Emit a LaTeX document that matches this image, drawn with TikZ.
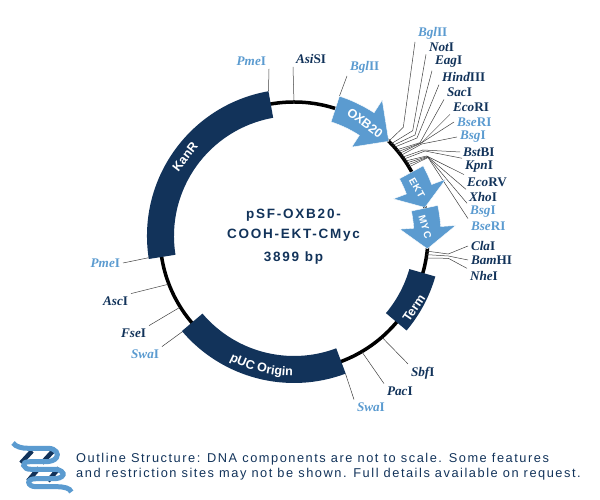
\documentclass[tikz,border=0pt]{standalone}
\usepackage{fontspec}
\usetikzlibrary{decorations.text}
\newfontfamily\labelfont{Liberation Sans}
\newfontfamily\spacedfont[LetterSpace=13]{Liberation Sans}
\newfontfamily\arrowfont[LetterSpace=10]{Liberation Sans}
\newfontfamily\footfont[LetterSpace=12]{Liberation Sans}
\newfontfamily\sitefont{Liberation Serif}
\definecolor{navy}{HTML}{12335A}
\definecolor{lightblue}{HTML}{5B9BD0}
\newcommand{\enz}[2]{\sitefont\bfseries\itshape #1\upshape #2}
\newcommand{\bandarc}[2]{(#1:147) arc[start angle=#1,end angle=#2,radius=147] -- (#2:120) arc[start angle=#2,end angle=#1,radius=120] -- cycle}
\newcommand{\arrowarc}[3]{(#1:147) arc[start angle=#1,end angle=#2,radius=147] -- (#2:162) -- (#3:134) -- (#2:106) -- (#2:120) arc[start angle=#2,end angle=#1,radius=120] -- cycle}
\tikzset{
  sitedark/.style={font=\fontsize{13.2}{13.2}\selectfont,text=navy,inner sep=0pt,outer sep=3pt},
  sitelight/.style={sitedark,text=lightblue},
  leader/.style={draw=black!75,line width=0.5pt},
  band/.style={fill=navy},
  feature/.style={fill=lightblue,draw=white,line width=0.4pt},
  bandtext/.style={font=\labelfont\bfseries\fontsize{12.5}{12.5}\selectfont,text=white},
  arrowtext/.style={font=\arrowfont\bfseries\fontsize{10}{10}\selectfont,text=white},
  bar/.style={draw=navy,line width=4.5pt},
  ribbon/.style={draw=lightblue,line width=5pt}
}
\begin{document}
\begin{tikzpicture}[x=1pt,y=1pt]
\useasboundingbox (0,0) rectangle (600,500);
\coordinate (O) at (294,264);
\draw[black,line width=3.5pt] (O) circle (134);

% leaders of the single sites
\node[sitelight,anchor=south east] (pmeTop) at (269,431) {\enz{Pme}{I}};
\draw[leader] (pmeTop.south east) -- ([shift={(100:147)}]O);
\node[sitedark,anchor=south west] (asiS) at (293,433) {\enz{Asi}{SI}};
\draw[leader] (asiS.south west) -- ([shift={(90:133)}]O);
\node[sitelight,anchor=south west] (bglLeft) at (347,424) {\enz{Bgl}{II}};
\draw[leader] (bglLeft.south west) -- ([shift={(72:147)}]O);
\node[sitelight,anchor=east] (pmeLeft) at (123,237) {\enz{Pme}{I}};
\draw[leader] (pmeLeft.east) -- ([shift={(188.5:147)}]O);
\node[sitedark,anchor=east] (asc) at (131,199) {\enz{Asc}{I}};
\draw[leader] (asc.north east) -- ([shift={(201:135)}]O);
\node[sitedark,anchor=east] (fse) at (149,167) {\enz{Fse}{I}};
\draw[leader] (fse.north east) -- ([shift={(212:135)}]O);
\node[sitelight,anchor=east] (swaLeft) at (162,146) {\enz{Swa}{I}};
\draw[leader] (swaLeft.north east) -- ([shift={(220.6:147)}]O);
\node[sitelight,anchor=west] (swaBot) at (354,93) {\enz{Swa}{I}};
\draw[leader] (swaBot.north west) -- ([shift={(290.5:147)}]O);
\node[sitedark,anchor=west] (pac) at (384,109) {\enz{Pac}{I}};
\draw[leader] (pac.north west) -- ([shift={(300.4:135)}]O);
\node[sitedark,anchor=west] (sbf) at (408,127) {\enz{Sbf}{I}};
\draw[leader] (sbf.north west) -- ([shift={(311:135)}]O);

% the site cluster on the right
\node[sitelight,anchor=west] (bglTop) at (415,467) {\enz{Bgl}{II}};
\draw[leader] (bglTop.south west) -- (403.3,372.7) -- ([shift={(45:134)}]O);
\node[sitedark,anchor=west] (not) at (426,453) {\enz{Not}{I}};
\draw[leader] (not.south west) -- (412.7,369.3) -- ([shift={(43.5:134)}]O);
\node[sitedark,anchor=west] (eag) at (432,438) {\enz{Eag}{I}};
\draw[leader] (eag.south west) -- (415,365) -- ([shift={(42.5:134)}]O);
\node[sitedark,anchor=west] (hind) at (439,423) {\enz{Hind}{III}};
\draw[leader] (hind.south west) -- (417,362) -- ([shift={(41.5:134)}]O);
\node[sitedark,anchor=west] (sac) at (444,408) {\enz{Sac}{I}};
\draw[leader] (sac.south west) -- (420,357.3) -- ([shift={(40:134)}]O);
\node[sitedark,anchor=west] (ecoI) at (450,393) {\enz{Eco}{RI}};
\draw[leader] (ecoI.south west) -- (421.7,357.3) -- ([shift={(39:134)}]O);
\node[sitelight,anchor=west] (bseTop) at (454,378) {\enz{Bse}{RI}};
\draw[leader] (bseTop.west) -- (421.7,357.3) -- ([shift={(38:134)}]O);
\node[sitelight,anchor=west] (bsgTop) at (457,363) {\enz{Bsg}{I}};
\draw[leader] (bsgTop.west) -- (421.7,356) -- ([shift={(37:134)}]O);
\node[sitedark,anchor=west] (bst) at (460,348) {\enz{Bst}{BI}};
\draw[leader] (bst.west) -- (423,350) -- ([shift={(36:134)}]O);
\node[sitedark,anchor=west] (kpn) at (462,333) {\enz{Kpn}{I}};
\draw[leader] (kpn.north west) -- (425,349) -- ([shift={(35:134)}]O);
\node[sitedark,anchor=west] (ecoV) at (464,318) {\enz{Eco}{RV}};
\draw[leader] (ecoV.north west) -- (426.7,344) -- ([shift={(34:134)}]O);
\node[sitedark,anchor=west] (xho) at (466,303) {\enz{Xho}{I}};
\draw[leader] (xho.north west) -- (427.5,343.5) -- ([shift={(33:134)}]O);
\node[sitelight,anchor=west] (bsgBot) at (467,288) {\enz{Bsg}{I}};
\draw[leader] (bsgBot.north west) -- (428,343) -- ([shift={(32:134)}]O);
\node[sitelight,anchor=west] (bseBot) at (468,274) {\enz{Bse}{RI}};
\draw[leader] (bseBot.north west) -- (428,342.5) -- ([shift={(31:134)}]O);
\node[sitedark,anchor=west] (cla) at (468,254) {\enz{Cla}{I}};
\draw[leader] (cla.west) -- (448.3,246) -- ([shift={(-6.5:134)}]O);
\node[sitedark,anchor=west] (bam) at (468,240) {\enz{Bam}{HI}};
\draw[leader] (bam.west) -- (448.3,244) -- ([shift={(-8:134)}]O);
\node[sitedark,anchor=west] (nhe) at (467,224) {\enz{Nhe}{I}};
\draw[leader] (nhe.north west) -- (448.3,241.7) -- ([shift={(-9.5:134)}]O);

% features
\begin{scope}[shift={(O)}]
\fill[band] \bandarc{100}{189};
\fill[band] \bandarc{220.3}{290.6};
\fill[band] \bandarc{-40}{-16};
\path[feature] \arrowarc{72}{57}{45};
\path[feature] \arrowarc{28.5}{20.5}{12.3};
\path[feature] \arrowarc{12}{3.7}{-5.5};
\path[decorate,decoration={text along path,text align=center,
  text={|\labelfont\bfseries\fontsize{12.5}{12.5}\selectfont\color{white}|pUC Origin}}]
  (240:140) arc[start angle=240,end angle=272,radius=140];
\end{scope}
\node[bandtext,rotate=52] (kanR) at (185,343.3) {KanR};
\node[bandtext,rotate=-37] (oxb) at (365,377) {OXB20};
\node[bandtext,rotate=56] (term) at (414,192) {Term};
\node[arrowtext,rotate=-61] (ekt) at (417,312) {EKT};
\node[arrowtext,rotate=-74] (myc) at (425,273.3) {MYC};

% plasmid name
\node[font=\spacedfont\bfseries\fontsize{13.5}{13.5}\selectfont,text=navy] (nameA) at (293.5,285) {pSF-OXB20-};
\node[font=\spacedfont\bfseries\fontsize{13.5}{13.5}\selectfont,text=navy] (nameB) at (293.5,265) {COOH-EKT-CMyc};
\node[font=\spacedfont\bfseries\fontsize{13.5}{13.5}\selectfont,text=navy] (nameC) at (293.5,242) {3899 bp};

% helix
\draw[bar] (21,37) -- (32,49);
\draw[bar] (42,37) -- (53,49);
\draw[bar] (28,19) -- (39,32);
\draw[bar] (48,19) -- (59,32);
\draw[ribbon] (13,57) .. controls (16,53) and (22,51.7) .. (28,51.7) -- (48,51.7) .. controls (56,51.7) and (59,46) .. (56.5,42.5) .. controls (54.5,39.5) and (50,38.3) .. (46,38.3) -- (30,38.3) .. controls (25,38.3) and (23,36.5) .. (23.7,34.5) .. controls (24.5,32) and (27,30.7) .. (31,30.7) -- (54,30.7) .. controls (61,30.7) and (64,27) .. (63,25) .. controls (62,22.5) and (58,21.3) .. (54,21.3) -- (36,21.3) .. controls (31,21.3) and (28.5,19.5) .. (28.7,17.5) .. controls (29,15) and (32,13.3) .. (36,13.3) -- (56,13.3) .. controls (64,13.3) and (70,12) .. (71.3,8);

% footer
\node[font=\footfont\fontsize{12.8}{14.5}\selectfont,text=navy,align=left,anchor=west,inner sep=0pt] (note) at (76,33.5) {Outline Structure: DNA components are not to scale. Some features\\and restriction sites may not be shown. Full details available on request.};
\end{tikzpicture}
\end{document}
